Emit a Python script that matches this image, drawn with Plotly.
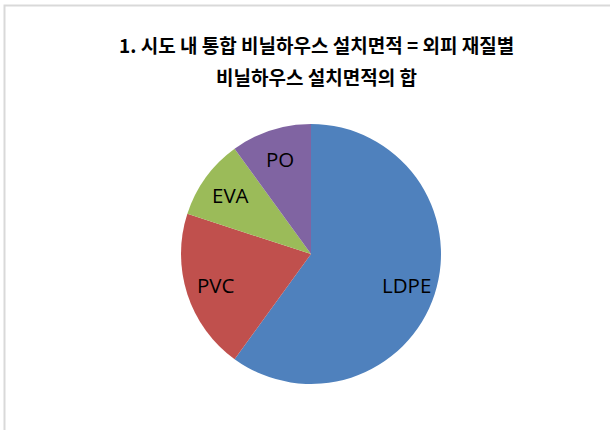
import math
import plotly.graph_objects as go

categories = ["LDPE", "PVC", "EVA", "PO"]
values = [60, 20, 10, 10]
colors = ["#4F81BD", "#C0504D", "#9BBB59", "#8064A2"]
title_lines = ["1. 시도 내 통합 비닐하우스 설치면적 = 외피 재질별", "비닐하우스 설치면적의 합"]

W, H = 610, 430
cx, cy, r = 311, 254, 130
label_frac = 0.77

fig = go.Figure(go.Pie(
    labels=categories,
    values=values,
    sort=False,
    direction="clockwise",
    rotation=0,
    marker=dict(colors=colors, line=dict(width=0)),
    textinfo="none",
    showlegend=False,
    hoverinfo="label+value",
    domain=dict(x=[(cx - r) / W, (cx + r) / W], y=[(H - cy - r) / H, (H - cy + r) / H]),
))

# slice labels placed along each slice's bisector (derived from the values)
annotations = []
total = sum(values)
acc = 0.0
for lab, v in zip(categories, values):
    mid = (acc + v / 2) / total * 2 * math.pi
    acc += v
    dx = math.sin(mid) * r * label_frac
    dy = -math.cos(mid) * r * label_frac  # screen-down offset
    annotations.append(dict(
        text=lab, xref="paper", yref="paper",
        x=(cx + dx) / W, y=1 - (cy + dy) / H,
        xanchor="center", yanchor="middle", showarrow=False,
        font=dict(family="Open Sans, Noto Sans", size=20.5, color="black"),
    ))

for line, ypix in zip(title_lines, [45, 76]):
    annotations.append(dict(
        text=line, xref="paper", yref="paper",
        x=316 / W, y=1 - ypix / H, xanchor="center", yanchor="middle",
        showarrow=False,
        font=dict(family="Noto Sans CJK KR", size=19, color="black", weight="bold"),
    ))

fig.update_layout(
    width=W, height=H,
    margin=dict(l=0, r=0, t=0, b=0),
    paper_bgcolor="white",
    annotations=annotations,
    shapes=[dict(
        type="rect", xref="paper", yref="paper",
        x0=4.5 / W, x1=1.02, y0=-0.02, y1=1 - 5.5 / H,
        line=dict(color="#d9d9d9", width=2), fillcolor="rgba(0,0,0,0)",
    )],
)

fig.write_html(
    "out.html",
    config={"displayModeBar": False},
    post_script="document.body.style.margin='0';document.body.style.padding='0';",
)
